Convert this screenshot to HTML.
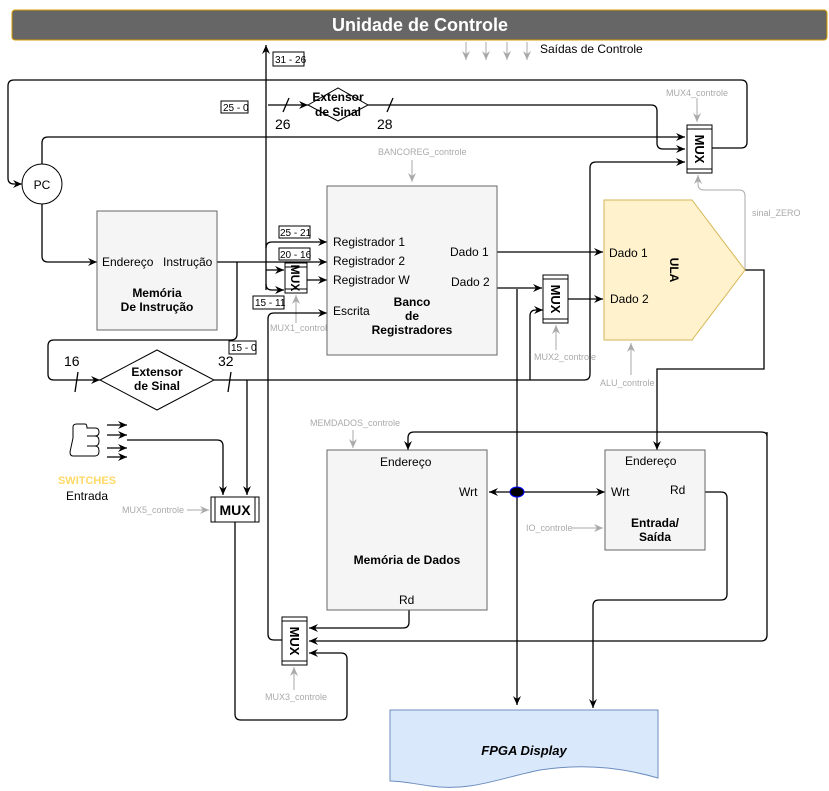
<!DOCTYPE html>
<html><head><meta charset="utf-8"><style>
html,body{margin:0;padding:0;background:#fff}
svg{display:block;font-family:"Liberation Sans",sans-serif}
</style></head><body>
<svg width="829" height="791" viewBox="0 0 829 791" xmlns="http://www.w3.org/2000/svg">
<defs>
<marker id="a" markerWidth="10" markerHeight="10" refX="9" refY="5" orient="auto" markerUnits="userSpaceOnUse"><path d="M0,1 L9,5 L0,9 L3,5 Z" fill="#000"/></marker>
<marker id="g" markerWidth="10" markerHeight="10" refX="9" refY="5" orient="auto" markerUnits="userSpaceOnUse"><path d="M0,1 L9,5 L0,9 L3,5 Z" fill="#aaa"/></marker>
</defs>
<rect x="12" y="10" width="815" height="30" rx="3" fill="#666" stroke="#d79b00"/>
<text x="420" y="31" text-anchor="middle" fill="#fff" font-weight="bold" font-size="18">Unidade de Controle</text>
<g stroke="#aaa" fill="none" marker-end="url(#g)">
<path d="M466,42V60"/><path d="M486,42V60"/><path d="M507,42V60"/><path d="M527,42V60"/>
<path d="M412,160V182"/><path d="M697,98V122"/><path d="M296,323V295"/><path d="M556,350V325"/><path d="M631,375V343"/>
<path d="M353,430V448"/><path d="M572,528H603"/><path d="M187,510H209"/><path d="M294,690V667"/>
<path d="M745,270V196Q745,190 739,190H704Q698,190 698,184V175"/>
</g>
<g font-size="9" fill="#aaa">
<text x="378" y="155">BANCOREG_controle</text><text x="666" y="96">MUX4_controle</text>
<text x="752" y="216">sinal_ZERO</text><text x="270" y="331">MUX1_controle</text>
<text x="534" y="360">MUX2_controle</text><text x="600" y="386">ALU_controle</text>
<text x="310" y="426">MEMDADOS_controle</text><text x="526" y="531">IO_controle</text>
<text x="122" y="513">MUX5_controle</text><text x="265" y="700">MUX3_controle</text>
</g>
<text x="540" y="53" font-size="12">Saídas de Controle</text>
<g stroke="#000" fill="none" stroke-width="1.3">
<path d="M266,290Q266,45 266,45" marker-end="url(#a)"/>
<path d="M266,248Q266,242 272,242H327" marker-end="url(#a)"/>
<path d="M266,270H284" marker-end="url(#a)"/>
<path d="M266,284Q266,290 272,290H284" marker-end="url(#a)"/>
<path d="M217,262H327" marker-end="url(#a)"/>
<path d="M307,280H327" marker-end="url(#a)"/>
<path d="M237,262V334Q237,340 231,340H54Q48,340 48,346V374Q48,380 54,380H100" marker-end="url(#a)"/>
<path d="M214,380H584Q590,380 590,374V168Q590,162 596,162H685" marker-end="url(#a)"/>
<path d="M530,380V316Q530,310 536,310H543" marker-end="url(#a)"/>
<path d="M247,380V495" marker-end="url(#a)"/>
<path d="M268,105H308" marker-end="url(#a)"/>
<path d="M368,105H651Q657,105 657,111V143Q657,149 663,149H685" marker-end="url(#a)"/>
<path d="M42,164V143Q42,137 48,137H685" marker-end="url(#a)"/>
<path d="M712,148H741Q747,148 747,142V86Q747,80 741,80H14Q8,80 8,86V178Q8,184 14,184H22" marker-end="url(#a)"/>
<path d="M42,204V256Q42,262 48,262H97" marker-end="url(#a)"/>
<path d="M497,252H603" marker-end="url(#a)"/>
<path d="M497,288H542" marker-end="url(#a)"/>
<path d="M568,299H603" marker-end="url(#a)"/>
<path d="M745,270H764V369H657V450" marker-end="url(#a)"/>
<path d="M517,289V705" marker-end="url(#a)"/>
<path d="M510,492H489" marker-end="url(#a)"/>
<path d="M524,492H605" marker-end="url(#a)"/>
<path d="M767,432V635Q767,641 761,641H309" marker-end="url(#a)"/>
<path d="M767,436Q767,432 761,432H414Q408,432 408,438V450" marker-end="url(#a)"/>
<path d="M705,492H721Q727,492 727,498V594Q727,600 721,600H599Q593,600 593,606V708" marker-end="url(#a)"/>
<path d="M409,610V622Q409,628 403,628H309" marker-end="url(#a)"/>
<path d="M282,640H274Q268,640 268,634V319Q268,313 274,313H327" marker-end="url(#a)"/>
<path d="M235,522V714Q235,720 241,720H341Q347,720 347,714V659Q347,653 341,653H309" marker-end="url(#a)"/>
<path d="M127,440H217Q223,440 223,446V495" marker-end="url(#a)"/>
<path d="M107,425H127" marker-end="url(#a)"/><path d="M107,435H127" marker-end="url(#a)"/>
<path d="M107,448H127" marker-end="url(#a)"/><path d="M107,457H127" marker-end="url(#a)"/>
<path d="M283,112L289,98M387,112L393,98M75,392L78,372M228,392L231,372"/>
</g>
<circle cx="42" cy="184" r="20" fill="#fff" stroke="#000"/>
<text x="42" y="189" text-anchor="middle" font-size="12">PC</text>
<polygon points="308,105 338,88 368,105 338,121" fill="#fff" stroke="#000"/>
<text x="338" y="101" text-anchor="middle" font-size="12" font-weight="bold">Extensor</text>
<text x="338" y="116" text-anchor="middle" font-size="12" font-weight="bold">de Sinal</text>
<text x="275" y="129" font-size="14">26</text><text x="377" y="129" font-size="14">28</text>
<polygon points="100,380 157,350 214,380 157,410" fill="#fff" stroke="#000"/>
<text x="157" y="376" text-anchor="middle" font-size="12" font-weight="bold">Extensor</text>
<text x="157" y="390" text-anchor="middle" font-size="12" font-weight="bold">de Sinal</text>
<text x="64" y="366" font-size="14">16</text><text x="218" y="366" font-size="14">32</text>
<g fill="#fff" stroke="#000"><rect x="221" y="101" width="27" height="12"/><rect x="273" y="52" width="31" height="14"/>
<rect x="279" y="226" width="31" height="12"/><rect x="279" y="248" width="31" height="12"/>
<rect x="253" y="296" width="31" height="13"/><rect x="229" y="341" width="27" height="13"/></g>
<g font-size="10"><text x="223" y="111">25 - 0</text><text x="275" y="63">31 - 26</text>
<text x="280" y="236">25 - 21</text><text x="280" y="258">20 - 16</text><text x="255" y="306">15 - 11</text><text x="231" y="351">15 - 0</text></g>
<rect x="97" y="211" width="120" height="119" fill="#f5f5f5" stroke="#666"/>
<text x="102" y="266" font-size="12">Endereço</text><text x="163" y="266" font-size="12">Instrução</text>
<text x="157" y="297" text-anchor="middle" font-size="12" font-weight="bold">Memória</text>
<text x="157" y="311" text-anchor="middle" font-size="12" font-weight="bold">De Instrução</text>
<rect x="327" y="186" width="170" height="169" fill="#f5f5f5" stroke="#666"/>
<g font-size="12"><text x="333" y="246">Registrador 1</text><text x="333" y="265">Registrador 2</text>
<text x="333" y="284">Registrador W</text><text x="333" y="315">Escrita</text>
<text x="450" y="256">Dado 1</text><text x="451" y="286">Dado 2</text></g>
<g font-size="12" font-weight="bold" text-anchor="middle"><text x="412" y="306">Banco</text><text x="412" y="320">de</text><text x="412" y="334">Registradores</text></g>
<polygon points="604,200 692,200 745,270 692,340 604,340" fill="#fff2cc" stroke="#d6b656"/>
<text x="609" y="257" font-size="12">Dado 1</text><text x="610" y="303" font-size="12">Dado 2</text>
<text transform="translate(670,270) rotate(90)" text-anchor="middle" font-size="12" font-weight="bold">ULA</text>
<g fill="#fff" stroke="#000"><rect x="285" y="263" width="22" height="30"/><rect x="543" y="275" width="25" height="48"/>
<rect x="687" y="125" width="25" height="48"/><rect x="282" y="617" width="25" height="48"/><rect x="211" y="497" width="48" height="25"/></g>
<g stroke="#000"><path d="M285,267H307M285,289H307M543,279H568M543,319H568M687,129H712M687,169H712M282,621H307M282,661H307M215,497V522M255,497V522"/></g>
<g font-weight="bold" font-size="13">
<text transform="translate(291,278) rotate(90)" text-anchor="middle" font-size="12">MUX</text>
<text transform="translate(551,299) rotate(90)" text-anchor="middle">MUX</text>
<text transform="translate(695,149) rotate(90)" text-anchor="middle">MUX</text>
<text transform="translate(290,641) rotate(90)" text-anchor="middle">MUX</text>
<text x="235" y="515" text-anchor="middle" font-size="14">MUX</text></g>
<rect x="327" y="450" width="160" height="160" fill="#f5f5f5" stroke="#666"/>
<text x="380" y="466" font-size="12">Endereço</text><text x="459" y="496" font-size="12">Wrt</text>
<text x="407" y="564" text-anchor="middle" font-size="12" font-weight="bold">Memória de Dados</text>
<text x="399" y="604" font-size="12">Rd</text>
<rect x="605" y="450" width="100" height="100" fill="#f5f5f5" stroke="#666"/>
<text x="625" y="465" font-size="12">Endereço</text><text x="611" y="496" font-size="12">Wrt</text><text x="670" y="494" font-size="12">Rd</text>
<text x="655" y="527" text-anchor="middle" font-size="12" font-weight="bold">Entrada/</text>
<text x="655" y="541" text-anchor="middle" font-size="12" font-weight="bold">Saída</text>
<ellipse cx="517" cy="492" rx="7" ry="5" fill="#000" stroke="#00f"/>
<path d="M390,710H658V778C630,770 590,762 540,770C500,778 470,792 430,786C410,783 400,781 390,781Z" fill="#dae8fc" stroke="#6c8ebf"/>
<text x="524" y="755" text-anchor="middle" font-size="13" font-weight="bold" font-style="italic">FPGA Display</text>
<path d="M73,438V427Q73,424 77,424H85Q87,424 87,428H95Q99,428 99,432Q99,436 95,436Q99,436 99,441Q99,446 95,446Q99,446 99,451Q99,456 95,456H73Q70,456 70,452Z" fill="#fff" stroke="#000"/>
<path d="M87,436H95M87,446H95" stroke="#000" fill="none"/>
<text x="87" y="484" text-anchor="middle" font-size="11" font-weight="bold" fill="#ffd966">SWITCHES</text>
<text x="87" y="500" text-anchor="middle" font-size="12">Entrada</text>
</svg>
</body></html>
